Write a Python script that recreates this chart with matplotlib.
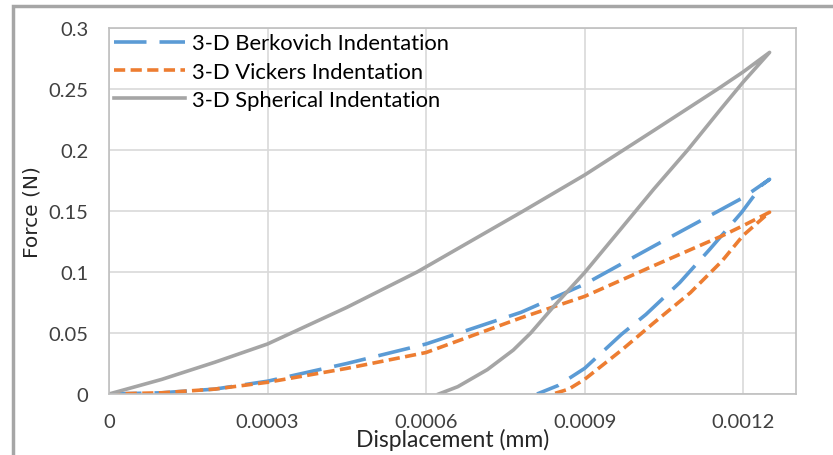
import matplotlib.pyplot as plt
from matplotlib.patches import Rectangle

# =========================================================
# FORCE - DISPLACEMENT CURVES (loading + unloading)
# =========================================================

berk_x = [0, 0.0001, 0.0002, 0.0003, 0.00045, 0.0006, 0.00078, 0.0009, 0.00103, 0.0012, 0.00125,
          0.001236, 0.001197, 0.001137, 0.00108, 0.001016, 0.00097, 0.0009, 0.00085, 0.00081]
berk_y = [0, 0.001, 0.004, 0.0105, 0.025, 0.041, 0.067, 0.090, 0.121, 0.161, 0.176,
          0.1715, 0.1488, 0.1187, 0.0913, 0.0652, 0.049, 0.021, 0.007, 0]

vick_x = [0, 0.0001, 0.0002, 0.0003, 0.00045, 0.0006, 0.00078, 0.0009, 0.00103, 0.00116, 0.0012, 0.00125,
          0.0012, 0.00116, 0.0011, 0.00103, 0.00097, 0.0009, 0.00087, 0.00084]
vick_y = [0, 0.001, 0.004, 0.0096, 0.021, 0.034, 0.0625, 0.080, 0.105, 0.1296, 0.138, 0.149,
          0.130, 0.109, 0.083, 0.058, 0.036, 0.012, 0.004, 0]

sph_x = [0, 0.0001, 0.0002, 0.0003, 0.00045, 0.000583, 0.000784, 0.0009, 0.001031, 0.001152, 0.0012, 0.00125,
         0.0012, 0.001158, 0.001095, 0.001031, 0.000968, 0.0009, 0.000842, 0.000798, 0.000765, 0.000716,
         0.00066, 0.000624]
sph_y = [0, 0.012, 0.026, 0.041, 0.071, 0.1, 0.15, 0.1795, 0.216, 0.25, 0.264, 0.280,
         0.2557, 0.2337, 0.2, 0.168, 0.135, 0.0995, 0.072, 0.050, 0.036, 0.020,
         0.006, 0]

x_ticks = [0, 0.0003, 0.0006, 0.0009, 0.0012]
x_tick_labels = ["0", "0.0003", "0.0006", "0.0009", "0.0012"]
y_ticks = [0, 0.05, 0.1, 0.15, 0.2, 0.25, 0.3]
y_tick_labels = ["0", "0.05", "0.1", "0.15", "0.2", "0.25", "0.3"]

plt.rcParams['font.family'] = ['Lato', 'DejaVu Sans']

fig = plt.figure(figsize=(8.33, 4.56), dpi=100)
ax = fig.add_axes([109/833, 61/456, 687/833, 366/456])

# outer chart border (only left/top visible in the crop)
fig.patches.append(Rectangle((13/833, -0.1), 1.2, (456-7)/456 + 0.1, transform=fig.transFigure,
                             fill=False, edgecolor="#A6A6A6", linewidth=2.5))

lw = 2.6
ax.plot(berk_x, berk_y, color="#5B9BD5", linewidth=lw, dashes=(9, 3.6),
        label="3-D Berkovich Indentation")
ax.plot(vick_x, vick_y, color="#ED7D31", linewidth=lw, dashes=(3.1, 1.5),
        label="3-D Vickers Indentation")
ax.plot(sph_x, sph_y, color="#A5A5A5", linewidth=lw,
        label="3-D Spherical Indentation")

ax.set_xlim(0, 0.0013)
ax.set_ylim(0, 0.3)
ax.set_xticks(x_ticks)
ax.set_xticklabels(x_tick_labels)
ax.set_yticks(y_ticks)
ax.set_yticklabels(y_tick_labels)
ax.tick_params(length=0, labelsize=14.5, colors="#404040")
ax.tick_params(axis="x", pad=13.5)
ax.tick_params(axis="y", pad=15)

ax.grid(color="#D9D9D9", linewidth=1.2)
ax.set_axisbelow(True)
for s in ax.spines.values():
    s.set_color("#BFBFBF")
    s.set_linewidth(1.2)

ax.set_xlabel("Displacement (mm)", fontsize=16.5, labelpad=-1.5, color="#262626")
ax.set_ylabel("Force (N)", fontsize=14.5, labelpad=5, color="#262626", family="DejaVu Sans")

ax.legend(loc="upper left", frameon=False, fontsize=15.8, handlelength=3.2,
          handletextpad=0.33, labelspacing=0.38, borderaxespad=0.05, borderpad=0.2)

fig.savefig("out.png", dpi=100)
